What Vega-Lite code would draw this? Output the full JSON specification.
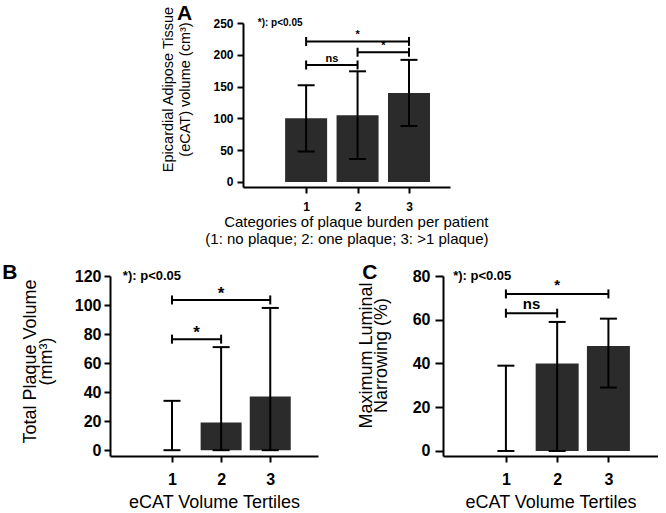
{
  "$schema": "https://vega.github.io/schema/vega-lite/v6.json",
  "padding": {"left": 2, "top": 2, "right": 0, "bottom": 0},
  "config": {
    "font": "Liberation Sans",
    "view": {"stroke": null},
    "axis": {"domainColor": "#000", "domainWidth": 2, "tickColor": "#000", "tickWidth": 2, "tickSize": 6, "labelColor": "#000", "titleColor": "#000", "labelFont": "Liberation Sans", "titleFont": "Liberation Sans", "grid": false, "labelFontWeight": "bold", "titleFontWeight": "normal", "labelFlush": false, "labelOverlap": false},
    "title": {"font": "Liberation Sans", "fontWeight": "bold", "color": "#000", "anchor": "start", "frame": "bounds"}
  },
  "datasets": {
    "a": [
      {"kind": "bar", "x": 1, "y": 100}, {"kind": "bar", "x": 2, "y": 105}, {"kind": "bar", "x": 3, "y": 140},
      {"kind": "err", "x": 1, "y": 48, "y2": 152}, {"kind": "err", "x": 2, "y": 36, "y2": 174}, {"kind": "err", "x": 3, "y": 88, "y2": 192},
      {"kind": "cap", "x": 1, "y": 48}, {"kind": "cap", "x": 1, "y": 152}, {"kind": "cap", "x": 2, "y": 36}, {"kind": "cap", "x": 2, "y": 174}, {"kind": "cap", "x": 3, "y": 88}, {"kind": "cap", "x": 3, "y": 192},
      {"kind": "sig", "x": 1, "x2": 2, "y": 184}, {"kind": "sig", "x": 2, "x2": 3, "y": 204}, {"kind": "sig", "x": 1, "x2": 3, "y": 221},
      {"kind": "end", "x": 1, "y": 184}, {"kind": "end", "x": 2, "y": 184}, {"kind": "end", "x": 2, "y": 204}, {"kind": "end", "x": 3, "y": 204}, {"kind": "end", "x": 1, "y": 221}, {"kind": "end", "x": 3, "y": 221},
      {"kind": "lab", "x": 1.5, "y": 184, "label": "ns"}, {"kind": "lab", "x": 2.5, "y": 204, "label": "*"}, {"kind": "lab", "x": 2, "y": 221, "label": "*"},
      {"kind": "note", "x": 0.06, "y": 250, "label": "*): p<0.05"}
    ],
    "b": [
      {"kind": "bar", "x": 1, "y": 0}, {"kind": "bar", "x": 2, "y": 19}, {"kind": "bar", "x": 3, "y": 37},
      {"kind": "err", "x": 1, "y": 0, "y2": 34}, {"kind": "err", "x": 2, "y": 0, "y2": 71}, {"kind": "err", "x": 3, "y": 0, "y2": 98},
      {"kind": "cap", "x": 1, "y": 0}, {"kind": "cap", "x": 1, "y": 34}, {"kind": "cap", "x": 2, "y": 0}, {"kind": "cap", "x": 2, "y": 71}, {"kind": "cap", "x": 3, "y": 0}, {"kind": "cap", "x": 3, "y": 98},
      {"kind": "sig", "x": 1, "x2": 2, "y": 76.5}, {"kind": "sig", "x": 1, "x2": 3, "y": 103.5},
      {"kind": "end", "x": 1, "y": 76.5}, {"kind": "end", "x": 2, "y": 76.5}, {"kind": "end", "x": 1, "y": 103.5}, {"kind": "end", "x": 3, "y": 103.5},
      {"kind": "lab", "x": 1.5, "y": 76.5, "label": "*"}, {"kind": "lab", "x": 2, "y": 103.5, "label": "*"},
      {"kind": "note", "x": 0.0, "y": 120, "label": "*): p<0.05"}
    ],
    "c": [
      {"kind": "bar", "x": 1, "y": 0}, {"kind": "bar", "x": 2, "y": 40}, {"kind": "bar", "x": 3, "y": 48},
      {"kind": "err", "x": 1, "y": 0, "y2": 39}, {"kind": "err", "x": 2, "y": 0, "y2": 59}, {"kind": "err", "x": 3, "y": 29, "y2": 60.5},
      {"kind": "cap", "x": 1, "y": 0}, {"kind": "cap", "x": 1, "y": 39}, {"kind": "cap", "x": 2, "y": 0}, {"kind": "cap", "x": 2, "y": 59}, {"kind": "cap", "x": 3, "y": 29}, {"kind": "cap", "x": 3, "y": 60.5},
      {"kind": "sig", "x": 1, "x2": 2, "y": 63}, {"kind": "sig", "x": 1, "x2": 3, "y": 71.8},
      {"kind": "end", "x": 1, "y": 63}, {"kind": "end", "x": 2, "y": 63}, {"kind": "end", "x": 1, "y": 71.8}, {"kind": "end", "x": 3, "y": 71.8},
      {"kind": "lab", "x": 1.5, "y": 63, "label": "ns"}, {"kind": "lab", "x": 2, "y": 71.8, "label": "*"},
      {"kind": "note", "x": -0.03, "y": 80, "label": "*): p<0.05"}
    ]
  },
  "spacing": 16,
  "vconcat": [
    {
      "concat": [
        {
          "width": 40,
          "height": 10,
          "view": {"fill": "white", "stroke": null},
          "data": {"values": [{"kind": "spacer"}]},
          "mark": {"type": "point", "opacity": 0},
          "encoding": {}
        },
        {
          "width": 207,
          "height": 164,
          "title": {"text": "A", "fontSize": 21, "offset": -18, "dx": 16},
          "data": {"name": "a"},
          "encoding": {
            "x": {"field": "x", "type": "quantitative", "scale": {"domain": [-0.13, 3.7], "nice": false, "zero": false},
              "axis": {"values": [1, 2, 3], "format": "d", "labelFontSize": 12, "labelPadding": 8, "labelOverlap": false, "title": ["Categories of plaque burden per patient", "(1: no plaque; 2: one plaque; 3: >1 plaque)"], "titleFontSize": 15, "titleLineHeight": 17, "titlePadding": 2, "titleAlign": "right", "titleX": 245}},
            "y": {"field": "y", "type": "quantitative", "scale": {"domain": [-8, 250], "nice": false, "zero": false},
              "axis": {"values": [0, 50, 100, 150, 200, 250], "labelFontSize": 12, "labelPadding": 4, "labelOverlap": false, "title": ["Epicardial Adipose Tissue", "(eCAT) volume (cm³)"], "titleFontSize": 14.5, "titleLineHeight": 17, "titlePadding": 20, "titleY": 66}}
          },
          "layer": [
            {"transform": [{"filter": "datum.kind === 'bar'"}], "mark": {"type": "bar", "size": 42, "color": "#2b2b2b"}},
            {"transform": [{"filter": "datum.kind === 'err'"}], "mark": {"type": "rule", "color": "#000", "strokeWidth": 2}, "encoding": {"y2": {"field": "y2"}}},
            {"transform": [{"filter": "datum.kind === 'cap'"}], "mark": {"type": "tick", "orient": "horizontal", "size": 17, "thickness": 2, "color": "#000", "opacity": 1}},
            {"transform": [{"filter": "datum.kind === 'sig'"}], "mark": {"type": "rule", "color": "#000", "strokeWidth": 2}, "encoding": {"x2": {"field": "x2"}}},
            {"transform": [{"filter": "datum.kind === 'end'"}], "mark": {"type": "tick", "orient": "vertical", "size": 9, "thickness": 2, "color": "#000", "opacity": 1}},
            {"transform": [{"filter": "datum.kind === 'lab'"}], "mark": {"type": "text", "baseline": "bottom", "dy": -1, "fontSize": 11, "fontWeight": "bold", "color": "#000"}, "encoding": {"text": {"field": "label"}}},
            {"transform": [{"filter": "datum.kind === 'note'"}], "mark": {"type": "text", "baseline": "middle", "align": "left", "fontSize": 10, "fontWeight": "bold", "color": "#000"}, "encoding": {"text": {"field": "label"}}}
          ]
        }
      ],
      "columns": 2,
      "align": "none",
      "spacing": 10
    },
    {
      "spacing": 39,
      "hconcat": [
        {
          "width": 208,
          "height": 180,
          "title": {"text": "B", "fontSize": 21, "dx": -19, "offset": -15},
          "data": {"name": "b"},
          "encoding": {
            "x": {"field": "x", "type": "quantitative", "scale": {"domain": [-0.16, 3.87], "nice": false, "zero": false},
              "axis": {"values": [1, 2, 3], "format": "d", "labelFontSize": 16, "labelPadding": 9, "labelOverlap": false, "title": "eCAT Volume Tertiles", "titleFontSize": 18, "titlePadding": 6}},
            "y": {"field": "y", "type": "quantitative", "scale": {"domain": [-4, 120], "nice": false, "zero": false},
              "axis": {"values": [0, 20, 40, 60, 80, 100, 120], "labelFontSize": 16, "labelPadding": 3, "labelOverlap": false, "title": ["Total Plaque Volume", "(mm³)"], "titleFontSize": 18, "titleLineHeight": 16, "titlePadding": 19, "titleY": 85}}
          },
          "layer": [
            {"transform": [{"filter": "datum.kind === 'bar'"}], "mark": {"type": "bar", "size": 41, "color": "#2b2b2b"}},
            {"transform": [{"filter": "datum.kind === 'err'"}], "mark": {"type": "rule", "color": "#000", "strokeWidth": 2}, "encoding": {"y2": {"field": "y2"}}},
            {"transform": [{"filter": "datum.kind === 'cap'"}], "mark": {"type": "tick", "orient": "horizontal", "size": 17, "thickness": 2, "color": "#000", "opacity": 1}},
            {"transform": [{"filter": "datum.kind === 'sig'"}], "mark": {"type": "rule", "color": "#000", "strokeWidth": 2}, "encoding": {"x2": {"field": "x2"}}},
            {"transform": [{"filter": "datum.kind === 'end'"}], "mark": {"type": "tick", "orient": "vertical", "size": 9, "thickness": 2, "color": "#000", "opacity": 1}},
            {"transform": [{"filter": "datum.kind === 'lab'"}], "mark": {"type": "text", "baseline": "bottom", "dy": 3, "fontSize": 17, "fontWeight": "bold", "color": "#000"}, "encoding": {"text": {"field": "label"}}},
            {"transform": [{"filter": "datum.kind === 'note'"}], "mark": {"type": "text", "baseline": "middle", "align": "left", "fontSize": 13, "fontWeight": "bold", "color": "#000"}, "encoding": {"text": {"field": "label"}}}
          ]
        },
        {
          "width": 215,
          "height": 180,
          "title": {"text": "C", "fontSize": 21, "offset": -15, "dx": 5},
          "data": {"name": "c"},
          "encoding": {
            "x": {"field": "x", "type": "quantitative", "scale": {"domain": [-0.13, 3.87], "nice": false, "zero": false},
              "axis": {"values": [1, 2, 3], "format": "d", "labelFontSize": 16, "labelPadding": 9, "labelOverlap": false, "title": "eCAT Volume Tertiles", "titleFontSize": 18, "titlePadding": 6}},
            "y": {"field": "y", "type": "quantitative", "scale": {"domain": [-2.3, 80], "nice": false, "zero": false},
              "axis": {"values": [0, 20, 40, 60, 80], "labelFontSize": 16, "labelPadding": 5, "tickSize": 8, "labelOverlap": false, "title": ["Maximum Luminal", "Narrowing (%)"], "titleFontSize": 18, "titleLineHeight": 15, "titlePadding": 22, "titleY": 79}}
          },
          "layer": [
            {"transform": [{"filter": "datum.kind === 'bar'"}], "mark": {"type": "bar", "size": 43, "color": "#2b2b2b"}},
            {"transform": [{"filter": "datum.kind === 'err'"}], "mark": {"type": "rule", "color": "#000", "strokeWidth": 2}, "encoding": {"y2": {"field": "y2"}}},
            {"transform": [{"filter": "datum.kind === 'cap'"}], "mark": {"type": "tick", "orient": "horizontal", "size": 17, "thickness": 2, "color": "#000", "opacity": 1}},
            {"transform": [{"filter": "datum.kind === 'sig'"}], "mark": {"type": "rule", "color": "#000", "strokeWidth": 2}, "encoding": {"x2": {"field": "x2"}}},
            {"transform": [{"filter": "datum.kind === 'end'"}], "mark": {"type": "tick", "orient": "vertical", "size": 9, "thickness": 2, "color": "#000", "opacity": 1}},
            {"transform": [{"filter": "datum.kind === 'lab'"}], "mark": {"type": "text", "baseline": "bottom", "dy": -1, "fontSize": 15, "fontWeight": "bold", "color": "#000"}, "encoding": {"text": {"field": "label"}}},
            {"transform": [{"filter": "datum.kind === 'note'"}], "mark": {"type": "text", "baseline": "middle", "align": "left", "fontSize": 13, "fontWeight": "bold", "color": "#000"}, "encoding": {"text": {"field": "label"}}}
          ]
        }
      ]
    }
  ]
}
